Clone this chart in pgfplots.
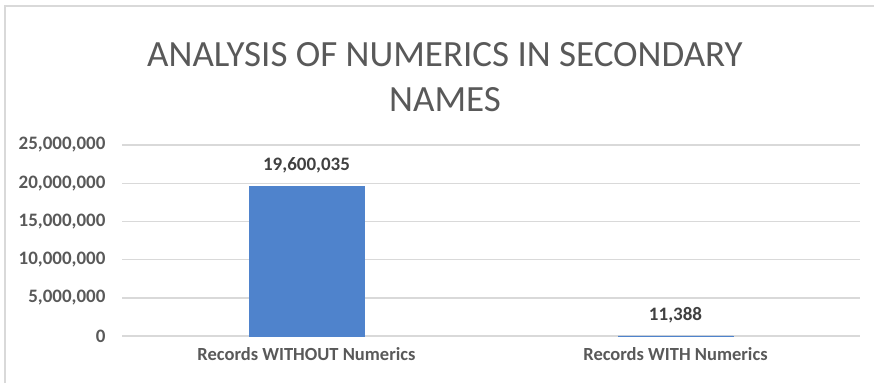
\documentclass[border=0pt]{standalone}
\usepackage{pgfplots}
\pgfplotsset{compat=1.18}
\usepackage{fontspec}
\setmainfont{Carlito}
\definecolor{barblue}{HTML}{4F83CC}
\definecolor{gridgray}{HTML}{D9D9D9}
\definecolor{txtgray}{HTML}{595959}
\definecolor{lblgray}{HTML}{404040}
\begin{document}
\begin{tikzpicture}[x=1pt,y=1pt]
\begin{axis}[
  at={(122pt,47pt)}, anchor=south west,
  scale only axis, width=738pt, height=191pt,
  xmin=-0.5, xmax=1.5, ymin=0, ymax=25000000,
  xtick={0,1}, xticklabels={Records WITHOUT Numerics, Records WITH Numerics},
  ytick={0,5000000,10000000,15000000,20000000,25000000},
  scaled y ticks=false,
  /pgf/number format/fixed, /pgf/number format/precision=0,
  /pgf/number format/1000 sep={,}, /pgf/number format/assume math mode=true,
  ymajorgrids, grid style={gridgray, line width=1.4pt},
  axis line style={draw=none},
  major tick length=0pt,
  yticklabel style={font=\fontsize{19}{21}\selectfont\bfseries, text=txtgray, xshift=-13pt},
  xticklabel style={font=\fontsize{18.5}{21}\selectfont\bfseries, text=txtgray, yshift=-8pt},
  ybar, bar width=115pt,
  clip=false,
  point meta=explicit symbolic,
  nodes near coords=\pgfplotspointmeta,
  nodes near coords style={font=\fontsize{19}{21}\selectfont\bfseries, text=lblgray, anchor=south, yshift=9pt},
]
\addplot[fill=barblue, draw=barblue, line width=0.8pt] coordinates {
  (0,19600035) [19,600,035]
  (1,11388) [11,388]
};
\end{axis}
\node[text=txtgray, align=center, font=\fontsize{37}{45}\selectfont] at (445pt,306pt) {ANALYSIS OF NUMERICS IN SECONDARY\\NAMES};
\draw[gridgray, line width=1.4pt] (5pt,0pt) -- (5pt,377pt) -- (874pt,377pt);
\pgfresetboundingbox
\useasboundingbox (0pt,0pt) rectangle (874pt,383pt);
\end{tikzpicture}
\end{document}
